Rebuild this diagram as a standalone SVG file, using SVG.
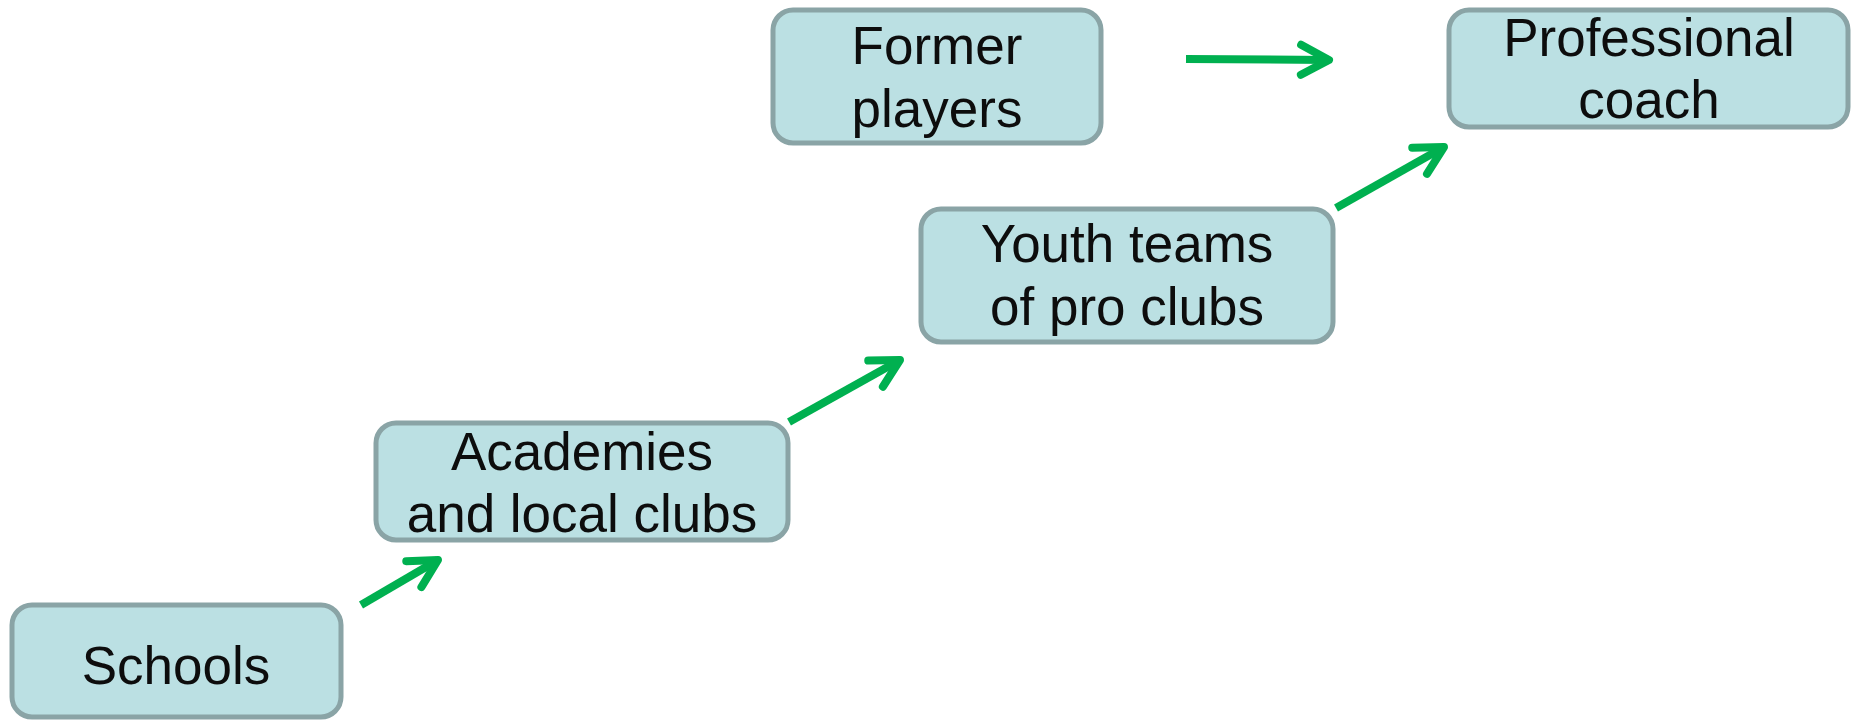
<svg xmlns="http://www.w3.org/2000/svg" width="1858" height="720" viewBox="0 0 1858 720">
<style>
.box{fill:#bbe0e3;stroke:#8aa4a6;stroke-width:5}
.lbl{font-family:"Liberation Sans",Arial,sans-serif;font-size:53px;fill:#0d0d0d;text-anchor:middle}
.conn{stroke:#00b050;stroke-width:8;fill:none;stroke-linecap:butt}
</style>
<defs>
<marker id="ah" markerUnits="userSpaceOnUse" markerWidth="60" markerHeight="60" viewBox="-40 -30 60 60" refX="0" refY="0" orient="auto" overflow="visible">
<path d="M-28,-15 L0,0 L-28,15" fill="none" stroke="#00b050" stroke-width="8" stroke-linecap="round" stroke-linejoin="round"/>
</marker>
</defs>
<rect width="1858" height="720" fill="#ffffff"/>
<g id="connectors">
<line class="conn" x1="361" y1="605" x2="438" y2="560" marker-end="url(#ah)"/>
<line class="conn" x1="789" y1="422" x2="900" y2="360" marker-end="url(#ah)"/>
<line class="conn" x1="1336" y1="208" x2="1444" y2="147" marker-end="url(#ah)"/>
<line class="conn" x1="1186" y1="59" x2="1329" y2="60" marker-end="url(#ah)"/>
</g>
<g id="schools">
<rect class="box" x="12" y="605" width="329" height="112" rx="20"/>
<text class="lbl" x="176" y="684">Schools</text>
</g>
<g id="academies">
<rect class="box" x="376" y="423" width="412" height="117" rx="20"/>
<text class="lbl" x="582" y="470">Academies</text>
<text class="lbl" x="582" y="532">and local clubs</text>
</g>
<g id="youth">
<rect class="box" x="921" y="209" width="412" height="133" rx="20"/>
<text class="lbl" x="1127" y="262">Youth teams</text>
<text class="lbl" x="1127" y="325">of pro clubs</text>
</g>
<g id="former">
<rect class="box" x="773" y="10" width="328" height="133" rx="20"/>
<text class="lbl" x="937" y="64">Former</text>
<text class="lbl" x="937" y="127">players</text>
</g>
<g id="professional">
<rect class="box" x="1449" y="10" width="399" height="117" rx="20"/>
<text class="lbl" x="1649" y="56">Professional</text>
<text class="lbl" x="1649" y="118">coach</text>
</g>
</svg>
